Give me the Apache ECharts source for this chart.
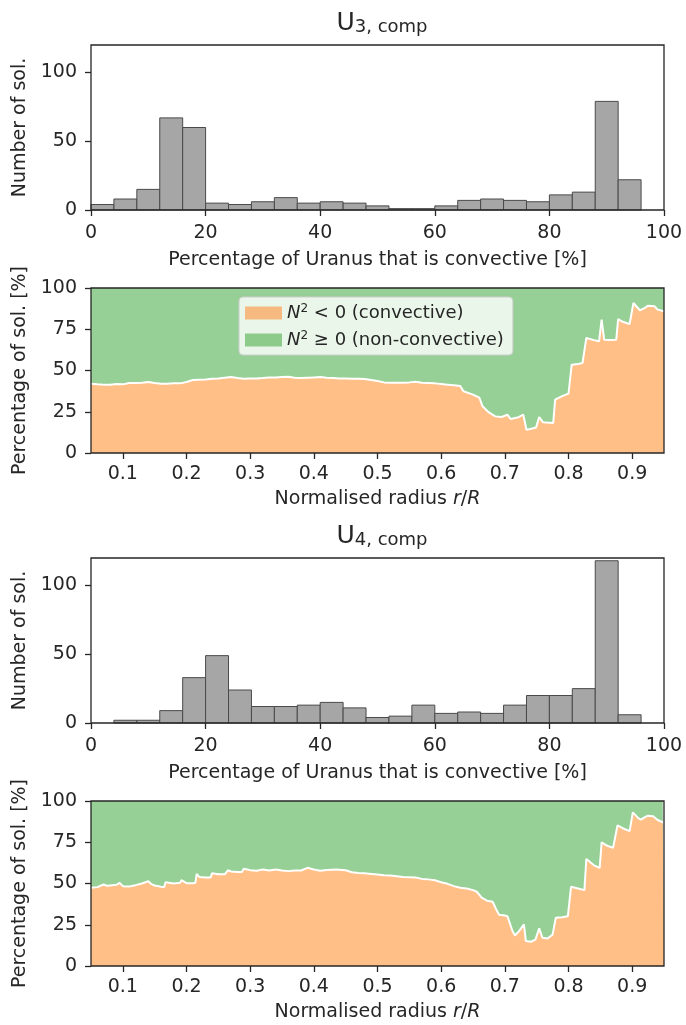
<!DOCTYPE html>
<html>
<head>
<meta charset="utf-8">
<script src="https://cdn.jsdelivr.net/npm/echarts@6/dist/echarts.min.js"></script>
<style>
html,body{margin:0;padding:0;background:#fff;}
#chart{width:686px;height:1025px;}
</style>
</head>
<body>
<div id="chart"></div>
<script>
// ---------- DATA ----------
const binEdges = [0,4,8,12,16,20,24,28,32,36,40,44,48,52,56,60,64,68,72,76,80,84,88,92,96,100];
const u3Counts = [4,8,15,67,60,5,4,6,9,5,6,5,3,1,1,3,7,8,7,6,11,13,79,22,0];
const u4Counts = [0,2,2,9,33,49,24,12,12,13,15,11,4,5,13,7,8,7,13,20,20,25,118,6,0];

const histXTicks = [0,20,40,60,80,100];
const histYTicks = [0,50,100];
const radiusTicks = [0.1,0.2,0.3,0.4,0.5,0.6,0.7,0.8,0.9];
const pctTicks = [0,25,50,75,100];

const u3Radius = [0.05,0.06,0.07,0.08,0.09,0.10,0.11,0.12,0.13,0.14,0.15,0.16,0.17,0.18,0.19,0.20,0.21,0.22,0.23,0.24,0.25,0.26,0.27,0.28,0.29,0.30,0.31,0.32,0.33,0.34,0.35,0.36,0.37,0.38,0.39,0.40,0.41,0.42,0.43,0.44,0.45,0.46,0.47,0.48,0.49,0.50,0.51,0.52,0.53,0.54,0.55,0.56,0.57,0.58,0.59,0.60,0.61,0.62,0.63,0.635,0.65,0.66,0.665,0.675,0.685,0.695,0.704,0.709,0.72,0.729,0.734,0.74,0.749,0.754,0.76,0.77,0.776,0.779,0.79,0.80,0.805,0.815,0.822,0.828,0.84,0.848,0.852,0.856,0.865,0.875,0.878,0.885,0.896,0.902,0.912,0.92,0.925,0.935,0.94,0.95];
const u3Convective = [42,41.6,41.4,41.4,41.8,41.6,42.4,42.4,42.6,43,42.4,42,42,42.2,42.2,43,44.2,44.4,44.6,45,45.2,45.6,46,45.4,45,45.2,45.2,45.4,45.8,45.8,46,46.2,45.6,45.4,45.6,45.8,46,45.6,45.4,45.2,45.2,45,45,44.8,44.2,43.6,42.8,42.6,42.6,42.6,42.8,43.2,42.6,42.4,42.2,41.8,41.4,41,40.6,37.4,35.4,33.5,28.3,24.6,22.2,21.8,23.2,20.6,21.5,23.2,14.1,14.6,15.4,21.8,18.6,18.4,18.2,32.3,34.5,36,53.5,54,54.5,69.7,68.4,67.7,80.8,68.7,68.5,68.7,81.2,79.5,78.2,90.9,86.5,88,89.3,88.9,86.9,85.9];

const u4Radius = [0.05,0.06,0.07,0.075,0.08,0.09,0.095,0.10,0.11,0.12,0.13,0.14,0.145,0.15,0.16,0.165,0.167,0.17,0.18,0.19,0.192,0.20,0.21,0.214,0.216,0.22,0.23,0.238,0.24,0.25,0.26,0.263,0.265,0.27,0.28,0.287,0.29,0.30,0.31,0.32,0.33,0.34,0.35,0.36,0.37,0.38,0.39,0.40,0.41,0.42,0.435,0.45,0.46,0.47,0.48,0.49,0.50,0.51,0.52,0.53,0.54,0.55,0.56,0.57,0.58,0.59,0.60,0.61,0.62,0.63,0.64,0.65,0.656,0.664,0.672,0.681,0.686,0.691,0.70,0.704,0.712,0.716,0.722,0.73,0.733,0.741,0.748,0.751,0.754,0.759,0.767,0.775,0.778,0.78,0.79,0.799,0.804,0.815,0.825,0.828,0.84,0.849,0.852,0.86,0.87,0.877,0.885,0.896,0.901,0.91,0.914,0.92,0.925,0.933,0.94,0.948,0.95];
const u4Convective = [47.4,47.8,49.4,48.6,48.8,49.2,50.4,48.4,48.2,49,50,51.4,49.6,48.8,48,47.8,50.8,50,50,50.4,52,50.2,50.2,50.4,55.8,54,53.6,53.6,56.2,55.6,55.6,55.8,58,57.3,56.9,57,58.9,58.1,57.7,58.5,57.9,58.5,57.9,57.5,57.9,57.9,59.5,58.5,57.7,58.2,58.5,58,56.8,56.4,56.2,55.8,55.4,55,54.8,54.4,54,53.8,53.6,52.8,52.5,52,50.8,49.8,48.4,47.4,47,46,45,41.3,39.6,38.9,34.7,31,30.6,30.2,21.2,18.5,21,25.2,15.1,14.7,16,17.1,22.8,17.1,16.7,19,20.2,29.2,29.6,30.2,48,47,46,64.9,61,59.5,75,73,71.6,85.3,83.5,81.7,93.1,89.5,88.7,90.2,91.1,90.7,88.5,87.1,86.8];

const titles = [['U','3, comp'],['U','4, comp']];
const legendNames = ['convective','non-convective'];

// ---------- STYLE ----------
const FONT = 'DejaVu Sans';
const TXT = '#262626';
const ORANGE = '#ffbf86';
const GREEN = '#96d096';
const FS = 19;

const grids = [
  {left:91, top:45, width:573, height:165},
  {left:91, top:288, width:573, height:165},
  {left:91, top:558, width:573, height:165},
  {left:91, top:801, width:573, height:165}
].map(g => Object.assign(g, {show:true, borderColor:TXT, borderWidth:1.3, backgroundColor:'transparent', z:10}));

const tickStyle = {show:true, inside:false, length:6, lineStyle:{color:TXT, width:1.3}};
const labelBase = {color:TXT, fontFamily:FONT, fontSize:FS};

function histX(i){
  return {gridIndex:i, type:'value', min:0, max:100, interval:20,
    axisLine:{show:false}, axisTick:tickStyle, splitLine:{show:false},
    axisLabel:Object.assign({margin:14}, labelBase),
    name:'Percentage of Uranus that is convective [%]', nameLocation:'middle', nameGap:41,
    nameTextStyle:{color:TXT, fontFamily:FONT, fontSize:FS}};
}
function histY(i){
  return {gridIndex:i, type:'value', min:0, max:120,
    axisLine:{show:false}, splitLine:{show:false},
    axisTick:Object.assign({customValues:histYTicks}, tickStyle),
    axisLabel:Object.assign({margin:14, customValues:histYTicks}, labelBase),
    name:'Number of sol.', nameLocation:'middle', nameGap:58,
    nameTextStyle:{color:TXT, fontFamily:FONT, fontSize:FS}};
}
function areaX(i){
  return {gridIndex:i, type:'value', min:0.05, max:0.95,
    axisLine:{show:false}, splitLine:{show:false},
    axisTick:Object.assign({customValues:radiusTicks}, tickStyle),
    axisLabel:Object.assign({margin:12, customValues:radiusTicks}, labelBase),
    name:'Normalised radius {i|r}/{i|R}', nameLocation:'middle', nameGap:37,
    nameTextStyle:{color:TXT, fontFamily:FONT, fontSize:FS,
      rich:{i:{fontStyle:'italic', fontFamily:FONT, fontSize:FS, color:TXT}}}};
}
function areaY(i){
  return {gridIndex:i, type:'value', min:0, max:100, interval:25,
    axisLine:{show:false}, splitLine:{show:false}, axisTick:tickStyle,
    axisLabel:Object.assign({margin:14}, labelBase),
    name:'Percentage of sol. [%]', nameLocation:'middle', nameGap:58,
    nameTextStyle:{color:TXT, fontFamily:FONT, fontSize:FS}};
}

function histData(counts){
  const out = [];
  counts.forEach((c, k) => { if (c > 0) out.push([binEdges[k], binEdges[k+1], c]); });
  return out;
}
function histSeries(i, counts){
  return {type:'custom', xAxisIndex:i, yAxisIndex:i, encode:{x:[0,1], y:2},
    data:histData(counts),
    renderItem:function(params, api){
      const p0 = api.coord([api.value(0), 0]);
      const p1 = api.coord([api.value(1), api.value(2)]);
      return {type:'rect', shape:{x:p0[0], y:p1[1], width:p1[0]-p0[0], height:p0[1]-p1[1]},
        style:{fill:'#a6a6a6', stroke:'#4a4a4a', lineWidth:1}};
    }};
}
function areaSeries(i, radius, conv){
  // green band = non-convective share, sitting on top of the convective share
  return [
    {name:legendNames[1], type:'line', xAxisIndex:i, yAxisIndex:i,
     data:radius.map((r,k)=>[r, conv[k] + (100 - conv[k])]), symbol:'none', z:3,
     lineStyle:{width:0, opacity:0}, itemStyle:{color:GREEN},
     areaStyle:{color:GREEN, opacity:1}},
    {name:legendNames[0], type:'line', xAxisIndex:i, yAxisIndex:i,
     data:radius.map((r,k)=>[r, conv[k]]), symbol:'none', z:4,
     lineStyle:{color:'#ffffff', width:2}, itemStyle:{color:ORANGE},
     areaStyle:{color:ORANGE, opacity:1}}
  ];
}

function title(i, top){
  return {text:'{u|' + titles[i][0] + '}{s|' + titles[i][1] + '}', left:377, top:top, textAlign:'center',
    textStyle:{fontWeight:'normal', rich:{
      u:{fontSize:25, fontFamily:FONT, fontWeight:'normal', color:TXT, lineHeight:30, verticalAlign:'bottom'},
      s:{fontSize:18, fontFamily:FONT, fontWeight:'normal', color:TXT, lineHeight:12, verticalAlign:'bottom'}
    }}};
}

const legendRich = {
  i:{fontStyle:'italic', fontFamily:FONT, fontSize:18, color:TXT, lineHeight:20},
  p:{fontFamily:FONT, fontSize:12, color:TXT, lineHeight:10, verticalAlign:'top'},
  t:{fontFamily:FONT, fontSize:18, color:TXT, lineHeight:20}
};

const option = {
  animation:false,
  backgroundColor:'#ffffff',
  title:[title(0, 1), title(1, 514)],
  grid:grids,
  xAxis:[histX(0), areaX(1), histX(2), areaX(3)],
  yAxis:[histY(0), areaY(1), histY(2), areaY(3)],
  legend:{orient:'vertical', left:239, top:297, itemWidth:37, itemHeight:13, itemGap:8,
    icon:'rect', selectedMode:false,
    backgroundColor:'rgba(255,255,255,0.8)', borderColor:'#cccccc', borderWidth:1, borderRadius:4,
    padding:[6,9,6,6],
    data:[{name:legendNames[0], itemStyle:{color:'#f6b97f'}}, {name:legendNames[1], itemStyle:{color:'#8dcb8b'}}],
    textStyle:{fontFamily:FONT, fontSize:18, color:TXT, rich:legendRich},
    formatter:function(name){
      return name === legendNames[0]
        ? '{i|N}{p|2}{t| < 0 (convective)}'
        : '{i|N}{p|2}{t| ≥ 0 (non-convective)}';
    }},
  series:[
    histSeries(0, u3Counts),
    ...areaSeries(1, u3Radius, u3Convective),
    histSeries(2, u4Counts),
    ...areaSeries(3, u4Radius, u4Convective)
  ]
};

const chart = echarts.init(document.getElementById('chart'), null, {renderer:'canvas'});
chart.setOption(option);
</script>
</body>
</html>
